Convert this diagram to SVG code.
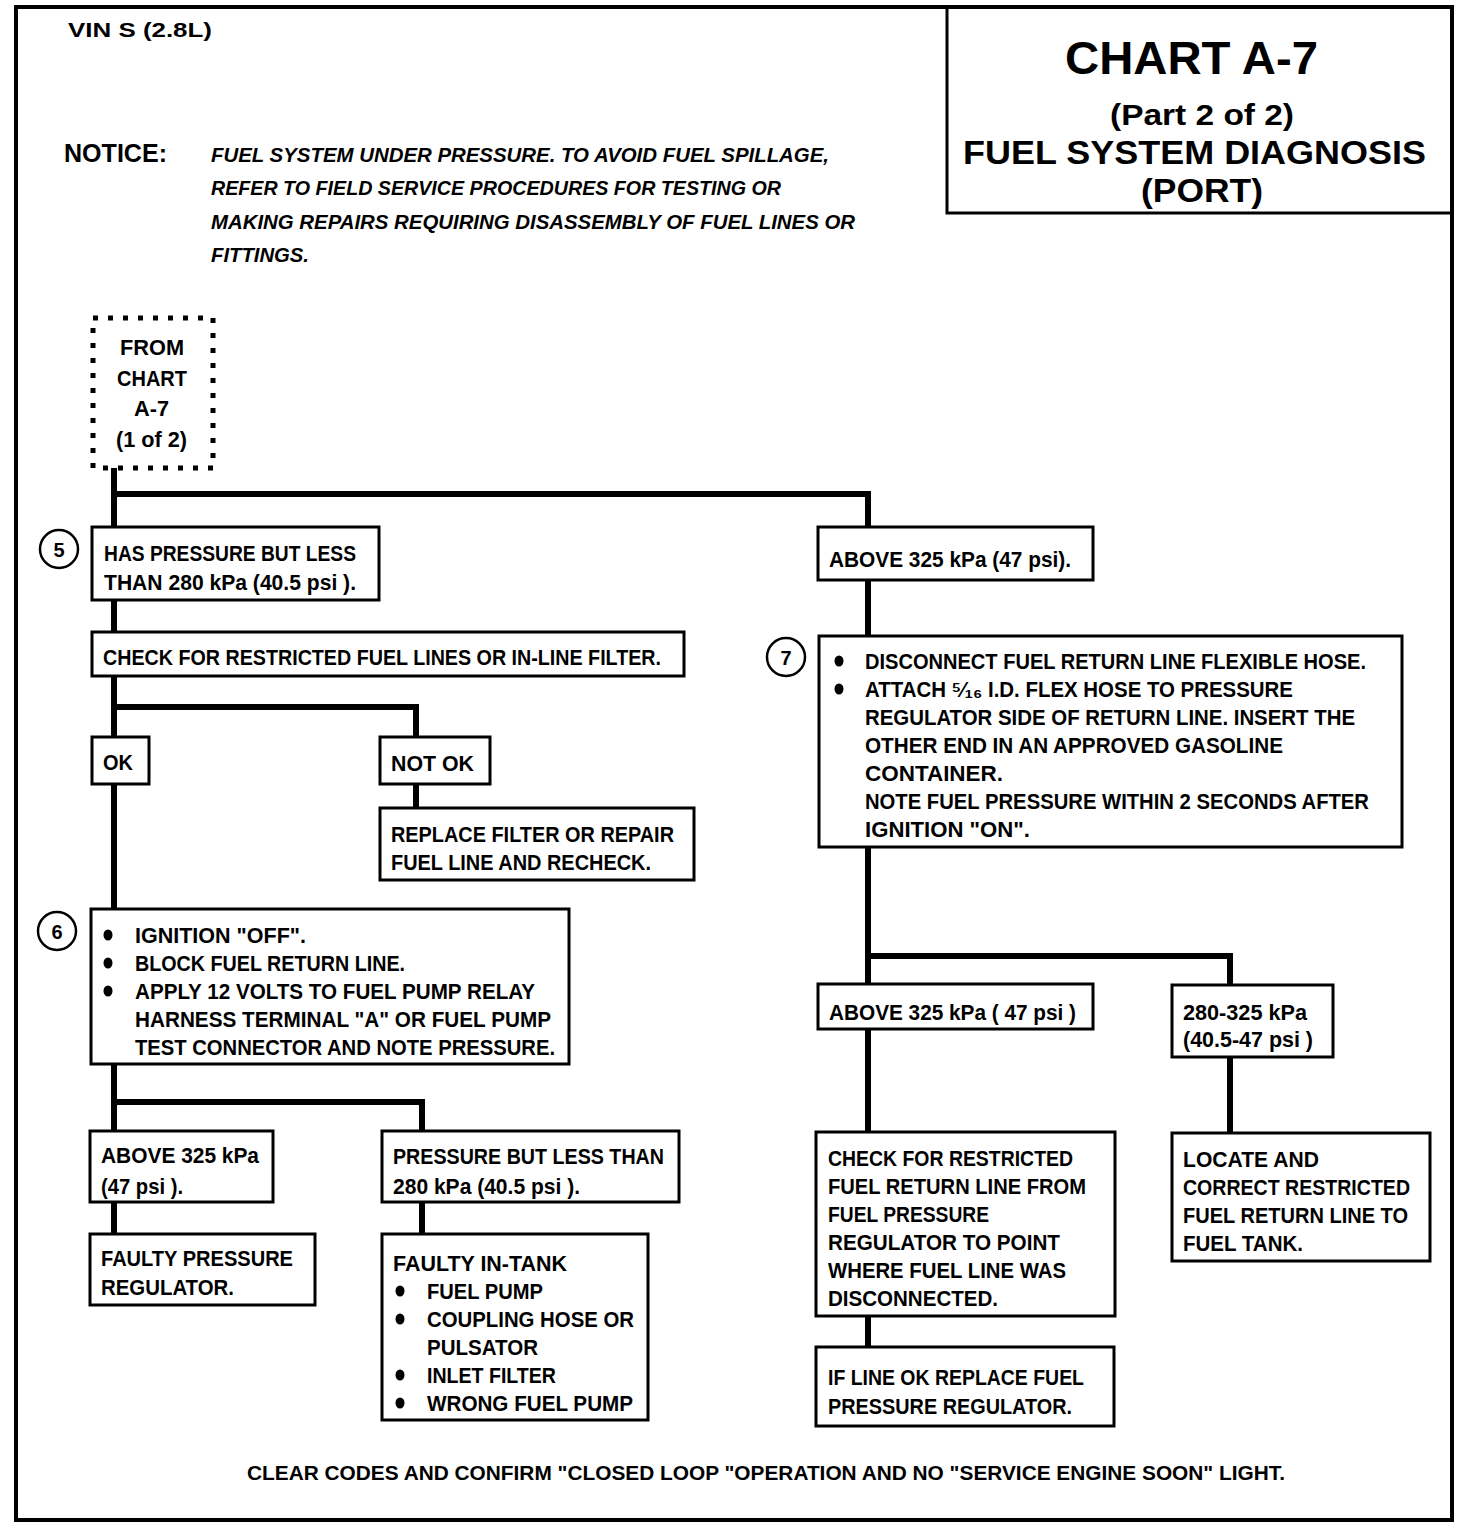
<svg xmlns="http://www.w3.org/2000/svg" width="1472" height="1526" viewBox="0 0 1472 1526">
<style>
.t{font-family:"Liberation Sans",Arial,sans-serif;font-weight:bold;font-size:22px;fill:#000}
.it{font-style:italic;font-size:21px}
.box{fill:#fff;stroke:#000;stroke-width:3}
.ln{fill:none;stroke:#000;stroke-width:6}
.cir{fill:#fff;stroke:#000;stroke-width:2.5}
.c{text-anchor:middle}
</style>
<rect width="1472" height="1526" fill="#fff"/>
<rect x="16" y="7" width="1436" height="1513" fill="none" stroke="#000" stroke-width="4"/>
<g id="title">
<rect x="947" y="7" width="505" height="206" fill="none" stroke="#000" stroke-width="3"/>
<text class="t" x="1065" y="74" style="font-size:46px" textLength="253" lengthAdjust="spacingAndGlyphs">CHART A-7</text>
<text class="t" x="1110" y="125" style="font-size:30px" textLength="184" lengthAdjust="spacingAndGlyphs">(Part 2 of 2)</text>
<text class="t" x="963" y="164" style="font-size:34px" textLength="463" lengthAdjust="spacingAndGlyphs">FUEL SYSTEM DIAGNOSIS</text>
<text class="t" x="1141" y="202" style="font-size:34px" textLength="122" lengthAdjust="spacingAndGlyphs">(PORT)</text>
</g>
<g id="header">
<text class="t" x="68" y="37" style="font-size:20px" textLength="144" lengthAdjust="spacingAndGlyphs">VIN S (2.8L)</text>
<text class="t" x="64" y="162" style="font-size:25px" textLength="103" lengthAdjust="spacingAndGlyphs">NOTICE:</text>
<text class="t it" x="211" y="162" textLength="618" lengthAdjust="spacingAndGlyphs">FUEL SYSTEM UNDER PRESSURE.  TO AVOID FUEL SPILLAGE,</text>
<text class="t it" x="211" y="195" textLength="570" lengthAdjust="spacingAndGlyphs">REFER TO FIELD SERVICE PROCEDURES FOR TESTING OR</text>
<text class="t it" x="211" y="229" textLength="644" lengthAdjust="spacingAndGlyphs">MAKING REPAIRS REQUIRING DISASSEMBLY OF FUEL LINES OR</text>
<text class="t it" x="211" y="262" textLength="98" lengthAdjust="spacingAndGlyphs">FITTINGS.</text>
</g>
<g id="connectors">
<polyline class="ln" points="114,468 114,1234"/>
<polyline class="ln" points="114,494 868,494 868,1347"/>
<polyline class="ln" points="114,707 416,707 416,808"/>
<polyline class="ln" points="114,1102 422,1102 422,1234"/>
<polyline class="ln" points="868,956 1230,956 1230,1133"/>
</g>
<g id="from">
<rect x="93" y="318" width="120" height="150" fill="#fff" stroke="#000" stroke-width="5" stroke-dasharray="5 10"/>
<text class="t" x="120" y="355" textLength="64" lengthAdjust="spacingAndGlyphs">FROM</text>
<text class="t" x="117" y="386" textLength="70" lengthAdjust="spacingAndGlyphs">CHART</text>
<text class="t" x="134" y="416" textLength="35" lengthAdjust="spacingAndGlyphs">A-7</text>
<text class="t" x="116" y="447" textLength="71" lengthAdjust="spacingAndGlyphs">(1 of 2)</text>
</g>
<g id="n5">
<circle class="cir" cx="59" cy="549" r="19"/>
<text class="t c" x="59" y="557" style="font-size:20px">5</text>
<rect class="box" x="92" y="527" width="287" height="73"/>
<text class="t" x="104" y="561" textLength="252" lengthAdjust="spacingAndGlyphs">HAS PRESSURE BUT LESS</text>
<text class="t" x="104" y="590" textLength="252" lengthAdjust="spacingAndGlyphs">THAN 280 kPa (40.5 psi ).</text>
</g>
<g id="check1">
<rect class="box" x="92" y="632" width="592" height="44"/>
<text class="t" x="103" y="665" textLength="558" lengthAdjust="spacingAndGlyphs">CHECK FOR RESTRICTED FUEL LINES OR IN-LINE FILTER.</text>
</g>
<g id="ok">
<rect class="box" x="92" y="737" width="57" height="47"/>
<text class="t" x="103" y="770" textLength="30" lengthAdjust="spacingAndGlyphs">OK</text>
</g>
<g id="notok">
<rect class="box" x="380" y="737" width="110" height="47"/>
<text class="t" x="391" y="771" textLength="83" lengthAdjust="spacingAndGlyphs">NOT OK</text>
</g>
<g id="replace">
<rect class="box" x="380" y="808" width="314" height="72"/>
<text class="t" x="391" y="842" textLength="283" lengthAdjust="spacingAndGlyphs">REPLACE FILTER  OR REPAIR</text>
<text class="t" x="391" y="870" textLength="260" lengthAdjust="spacingAndGlyphs">FUEL LINE AND RECHECK.</text>
</g>
<g id="n6">
<circle class="cir" cx="57" cy="931" r="19"/>
<text class="t c" x="57" y="939" style="font-size:20px">6</text>
<rect class="box" x="91" y="909" width="478" height="155"/>
<ellipse cx="108" cy="935" rx="4.5" ry="5.5"/><ellipse cx="108" cy="963" rx="4.5" ry="5.5"/><ellipse cx="108" cy="991" rx="4.5" ry="5.5"/>
<text class="t" x="135" y="943" textLength="171" lengthAdjust="spacingAndGlyphs">IGNITION "OFF".</text>
<text class="t" x="135" y="971" textLength="270" lengthAdjust="spacingAndGlyphs">BLOCK FUEL RETURN LINE.</text>
<text class="t" x="135" y="999" textLength="400" lengthAdjust="spacingAndGlyphs">APPLY 12 VOLTS TO FUEL PUMP RELAY</text>
<text class="t" x="135" y="1027" textLength="416" lengthAdjust="spacingAndGlyphs">HARNESS TERMINAL "A" OR FUEL PUMP</text>
<text class="t" x="135" y="1055" textLength="420" lengthAdjust="spacingAndGlyphs">TEST CONNECTOR AND NOTE PRESSURE.</text>
</g>
<g id="above1">
<rect class="box" x="90" y="1131" width="183" height="71"/>
<text class="t" x="101" y="1163" textLength="158" lengthAdjust="spacingAndGlyphs">ABOVE 325 kPa</text>
<text class="t" x="101" y="1194" textLength="82" lengthAdjust="spacingAndGlyphs">(47 psi ).</text>
</g>
<g id="less1">
<rect class="box" x="382" y="1131" width="297" height="71"/>
<text class="t" x="393" y="1164" textLength="271" lengthAdjust="spacingAndGlyphs">PRESSURE BUT LESS THAN</text>
<text class="t" x="393" y="1194" textLength="187" lengthAdjust="spacingAndGlyphs">280 kPa (40.5 psi ).</text>
</g>
<g id="faultyreg">
<rect class="box" x="90" y="1234" width="225" height="71"/>
<text class="t" x="101" y="1266" textLength="192" lengthAdjust="spacingAndGlyphs">FAULTY PRESSURE</text>
<text class="t" x="101" y="1295" textLength="133" lengthAdjust="spacingAndGlyphs">REGULATOR.</text>
</g>
<g id="faultytank">
<rect class="box" x="382" y="1234" width="266" height="186"/>
<text class="t" x="393" y="1271" textLength="174" lengthAdjust="spacingAndGlyphs">FAULTY IN-TANK</text>
<ellipse cx="400" cy="1291" rx="4.5" ry="5.5"/><ellipse cx="400" cy="1319" rx="4.5" ry="5.5"/><ellipse cx="400" cy="1375" rx="4.5" ry="5.5"/><ellipse cx="400" cy="1403" rx="4.5" ry="5.5"/>
<text class="t" x="427" y="1299" textLength="116" lengthAdjust="spacingAndGlyphs">FUEL PUMP</text>
<text class="t" x="427" y="1327" textLength="207" lengthAdjust="spacingAndGlyphs">COUPLING HOSE OR</text>
<text class="t" x="427" y="1355" textLength="111" lengthAdjust="spacingAndGlyphs">PULSATOR</text>
<text class="t" x="427" y="1383" textLength="129" lengthAdjust="spacingAndGlyphs">INLET FILTER</text>
<text class="t" x="427" y="1411" textLength="206" lengthAdjust="spacingAndGlyphs">WRONG FUEL PUMP</text>
</g>
<g id="above2">
<rect class="box" x="818" y="527" width="275" height="53"/>
<text class="t" x="829" y="567" textLength="242" lengthAdjust="spacingAndGlyphs">ABOVE 325 kPa (47 psi).</text>
</g>
<g id="n7">
<circle class="cir" cx="786" cy="657" r="19"/>
<text class="t c" x="786" y="665" style="font-size:20px">7</text>
<rect class="box" x="819" y="636" width="583" height="211"/>
<ellipse cx="839" cy="661" rx="4.5" ry="5.5"/><ellipse cx="839" cy="689" rx="4.5" ry="5.5"/>
<text class="t" x="865" y="669" textLength="501" lengthAdjust="spacingAndGlyphs">DISCONNECT FUEL RETURN LINE FLEXIBLE HOSE.</text>
<text class="t" x="865" y="697" textLength="428" lengthAdjust="spacingAndGlyphs">ATTACH ⁵⁄₁₆ I.D. FLEX HOSE TO PRESSURE</text>
<text class="t" x="865" y="725" textLength="490" lengthAdjust="spacingAndGlyphs">REGULATOR SIDE OF RETURN LINE.  INSERT THE</text>
<text class="t" x="865" y="753" textLength="418" lengthAdjust="spacingAndGlyphs">OTHER END IN AN APPROVED GASOLINE</text>
<text class="t" x="865" y="781" textLength="138" lengthAdjust="spacingAndGlyphs">CONTAINER.</text>
<text class="t" x="865" y="809" textLength="504" lengthAdjust="spacingAndGlyphs">NOTE FUEL PRESSURE WITHIN 2 SECONDS AFTER</text>
<text class="t" x="865" y="837" textLength="165" lengthAdjust="spacingAndGlyphs">IGNITION "ON".</text>
</g>
<g id="above3">
<rect class="box" x="818" y="984" width="275" height="45"/>
<text class="t" x="829" y="1020" textLength="247" lengthAdjust="spacingAndGlyphs">ABOVE 325 kPa ( 47 psi )</text>
</g>
<g id="mid">
<rect class="box" x="1172" y="985" width="161" height="72"/>
<text class="t" x="1183" y="1020" textLength="124" lengthAdjust="spacingAndGlyphs">280-325 kPa</text>
<text class="t" x="1183" y="1047" textLength="130" lengthAdjust="spacingAndGlyphs">(40.5-47 psi )</text>
</g>
<g id="checkret">
<rect class="box" x="816" y="1132" width="299" height="184"/>
<text class="t" x="828" y="1166" textLength="245" lengthAdjust="spacingAndGlyphs">CHECK FOR RESTRICTED</text>
<text class="t" x="828" y="1194" textLength="258" lengthAdjust="spacingAndGlyphs">FUEL RETURN LINE FROM</text>
<text class="t" x="828" y="1222" textLength="161" lengthAdjust="spacingAndGlyphs">FUEL PRESSURE</text>
<text class="t" x="828" y="1250" textLength="232" lengthAdjust="spacingAndGlyphs">REGULATOR TO POINT</text>
<text class="t" x="828" y="1278" textLength="238" lengthAdjust="spacingAndGlyphs">WHERE FUEL LINE WAS</text>
<text class="t" x="828" y="1306" textLength="170" lengthAdjust="spacingAndGlyphs">DISCONNECTED.</text>
</g>
<g id="ifline">
<rect class="box" x="816" y="1347" width="298" height="79"/>
<text class="t" x="828" y="1385" textLength="256" lengthAdjust="spacingAndGlyphs">IF LINE OK REPLACE FUEL</text>
<text class="t" x="828" y="1414" textLength="244" lengthAdjust="spacingAndGlyphs">PRESSURE REGULATOR.</text>
</g>
<g id="locate">
<rect class="box" x="1172" y="1133" width="258" height="128"/>
<text class="t" x="1183" y="1167" textLength="136" lengthAdjust="spacingAndGlyphs">LOCATE AND</text>
<text class="t" x="1183" y="1195" textLength="227" lengthAdjust="spacingAndGlyphs">CORRECT RESTRICTED</text>
<text class="t" x="1183" y="1223" textLength="225" lengthAdjust="spacingAndGlyphs">FUEL RETURN LINE TO</text>
<text class="t" x="1183" y="1251" textLength="120" lengthAdjust="spacingAndGlyphs">FUEL TANK.</text>
</g>
<g id="footer">
<text class="t" x="247" y="1480" style="font-size:21px" textLength="1038" lengthAdjust="spacingAndGlyphs">CLEAR CODES AND CONFIRM "CLOSED LOOP "OPERATION AND NO "SERVICE ENGINE SOON" LIGHT.</text>
</g>
</svg>
